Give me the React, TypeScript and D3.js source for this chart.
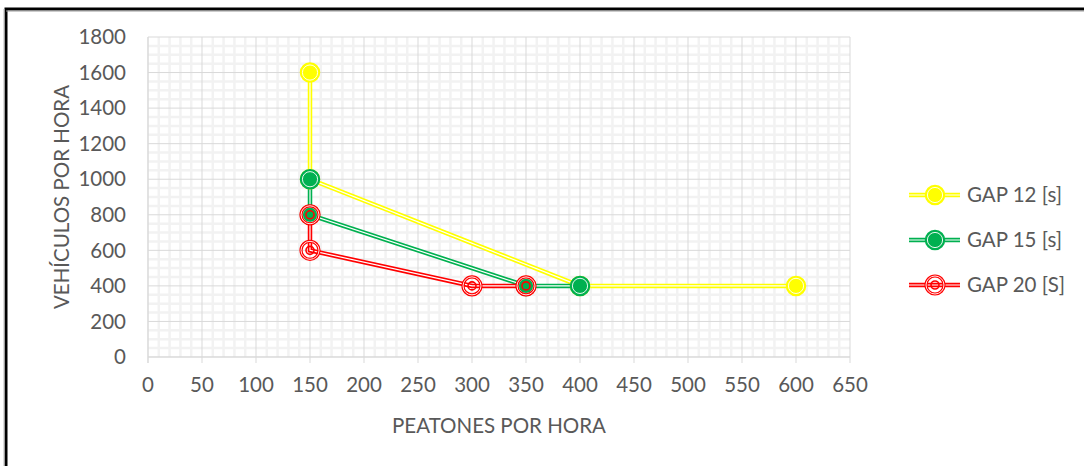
import React from "react";
import * as d3 from "d3";

const xTicks = [0, 50, 100, 150, 200, 250, 300, 350, 400, 450, 500, 550, 600, 650];
const yTicks = [0, 200, 400, 600, 800, 1000, 1200, 1400, 1600, 1800];

const gap12X = [150, 150, 400, 600];
const gap12Y = [1600, 1000, 400, 400];
const gap15X = [150, 150, 350, 400];
const gap15Y = [1000, 800, 400, 400];
const gap20X = [150, 150, 300, 350];
const gap20Y = [800, 600, 400, 400];

const seriesNames = ["GAP 12 [s]", "GAP 15 [s]", "GAP 20 [S]"];
const seriesColors = ["#FFFF00", "#00B050", "#FF0000"];

const W = 1084;
const H = 466;
const x = d3.scaleLinear().domain([0, 650]).range([148, 850]);
const y = d3.scaleLinear().domain([0, 1800]).range([357, 37]);
const FONT = "Lato, 'Open Sans', sans-serif";
const TXT = "#595959";
const FS = 20.5;

function Marker({ cx, cy, color, kind }: { cx: number; cy: number; color: string; kind: number }) {
  if (kind === 2) {
    return (
      <g>
        <circle cx={cx} cy={cy} r={9} fill="none" stroke={color} strokeWidth={3.2} />
        <circle cx={cx} cy={cy} r={9} fill="none" stroke="#fff" strokeWidth={0.9} />
        <circle cx={cx} cy={cy} r={4} fill="none" stroke={color} strokeWidth={1.6} />
      </g>
    );
  }
  return (
    <g>
      <circle cx={cx} cy={cy} r={9.5} fill={color} stroke={color} strokeWidth={1.5} />
      <circle cx={cx} cy={cy} r={7.6} fill="none" stroke="#fff" strokeWidth={0.9} />
    </g>
  );
}

export default function App() {
  const series = [
    { xs: gap12X, ys: gap12Y },
    { xs: gap15X, ys: gap15Y },
    { xs: gap20X, ys: gap20Y },
  ];
  const line = d3
    .line<[number, number]>()
    .x((d) => x(d[0]))
    .y((d) => y(d[1]));

  const minorX = d3.range(0, 651, 10).filter((v) => v % 50 !== 0);
  const minorY = d3.range(0, 1801, 50).filter((v) => v % 200 !== 0);

  const legendY = [195, 240, 285];

  return (
    <svg
      width={W}
      height={H}
      style={{ position: "absolute", left: 0, top: 0, display: "block", background: "#fff" }}
    >
      <rect x={0} y={0} width={W} height={H} fill="#fff" />
      <rect x={6} y={9} width={1300} height={1000} fill="none" stroke="#000" strokeWidth={3} />
      <line x1={4} y1={9} x2={4} y2={H} stroke="#bbb" strokeWidth={1} />
      <line x1={6} y1={11} x2={W} y2={11} stroke="#999" strokeWidth={1} />

      {/* minor grid */}
      {minorX.map((v) => (
        <line key={"mx" + v} x1={x(v)} x2={x(v)} y1={y(1800)} y2={y(0)} stroke="#f2f2f2" strokeWidth={2.5} />
      ))}
      {minorY.map((v) => (
        <line key={"my" + v} x1={x(0)} x2={x(650)} y1={y(v)} y2={y(v)} stroke="#f2f2f2" strokeWidth={2.5} />
      ))}
      {/* major grid */}
      {xTicks.map((v) => (
        <line key={"gx" + v} x1={x(v)} x2={x(v)} y1={y(1800)} y2={y(0)} stroke="#d9d9d9" strokeWidth={1} />
      ))}
      {yTicks.map((v) => (
        <line key={"gy" + v} x1={x(0)} x2={x(650)} y1={y(v)} y2={y(v)} stroke="#d9d9d9" strokeWidth={1} />
      ))}
      {/* axis lines */}
      <line x1={x(0)} x2={x(0)} y1={y(1800)} y2={y(0) + 6} stroke="#d9d9d9" strokeWidth={1} />
      <line x1={x(0)} x2={x(650)} y1={y(0)} y2={y(0)} stroke="#d9d9d9" strokeWidth={1} />
      {xTicks.map((v) => (
        <line key={"tx" + v} x1={x(v)} x2={x(v)} y1={y(0)} y2={y(0) + 6} stroke="#d9d9d9" strokeWidth={1} />
      ))}

      {/* tick labels */}
      {yTicks.map((v) => (
        <text key={"ly" + v} x={126} y={y(v)} dy="0.35em" textAnchor="end" fontSize={FS} fontFamily={FONT} fill={TXT}>
          {v}
        </text>
      ))}
      {xTicks.map((v) => (
        <text key={"lx" + v} x={x(v)} y={385} dy="0.35em" textAnchor="middle" fontSize={FS} fontFamily={FONT} fill={TXT}>
          {v}
        </text>
      ))}
      <text x={499} y={426} dy="0.35em" textAnchor="middle" fontSize={FS} fontFamily={FONT} fill={TXT}>
        PEATONES POR HORA
      </text>
      <text
        transform={`translate(62,${y(900)}) rotate(-90)`}
        dy="0.35em"
        textAnchor="middle"
        fontSize={FS}
        fontFamily={FONT}
        fill={TXT}
      >
        VEHÍCULOS POR HORA
      </text>

      {/* series lines */}
      {series.map((s, i) => {
        const pts = s.xs.map((v, j) => [v, s.ys[j]] as [number, number]);
        return (
          <g key={"s" + i}>
            <path d={line(pts) || ""} fill="none" stroke={seriesColors[i]} strokeWidth={4.5} />
            <path d={line(pts) || ""} fill="none" stroke="#fff" strokeWidth={1.2} />
          </g>
        );
      })}
      {/* markers */}
      {series.map((s, i) => (
        <g key={"m" + i}>
          {s.xs.map((v, j) => (
            <Marker key={j} cx={x(v)} cy={y(s.ys[j])} color={seriesColors[i]} kind={i} />
          ))}
        </g>
      ))}

      {/* legend */}
      {seriesNames.map((n, i) => (
        <g key={"lg" + i}>
          <line x1={909} x2={960} y1={legendY[i]} y2={legendY[i]} stroke={seriesColors[i]} strokeWidth={4.5} />
          <line x1={909} x2={960} y1={legendY[i]} y2={legendY[i]} stroke="#fff" strokeWidth={1.2} />
          <Marker cx={935} cy={legendY[i]} color={seriesColors[i]} kind={i} />
          <text x={967} y={legendY[i]} dy="0.35em" fontSize={FS} fontFamily={FONT} fill={TXT}>
            {n}
          </text>
        </g>
      ))}
    </svg>
  );
}
